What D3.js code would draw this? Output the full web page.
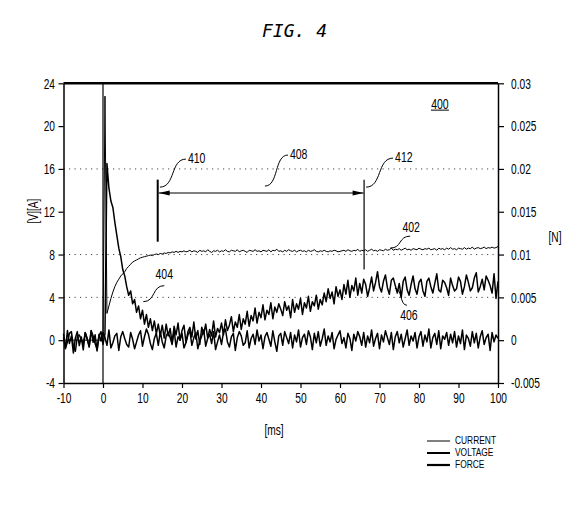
<!DOCTYPE html>
<html>
<head>
<meta charset="utf-8">
<script src="https://cdn.jsdelivr.net/npm/d3@7"></script>
<style>
  body { margin: 0; background: #fff; }
  svg { display: block; }
</style>
</head>
<body>
<div id="chart"></div>
<script>
// Scope trace, one sample every 0.5 ms starting at -10 ms
var startTime = -10, sampleStep = 0.5;

// CURRENT [A] (thin trace, labelled 402)
var currentA = [
  0, 0, 0, 0, 0, 0, 0, 0, 0, 0, 0, 0, 0, 0, 0, 0, 0, 0, 0, 0, 0,
  22.8,
  2.5, 3.2, 3.9, 4.5, 5.0, 5.4, 5.7, 6.0, 6.2, 6.4, 6.7, 6.9, 7.1, 7.3, 7.4, 7.5, 7.6, 7.7, 7.75,
  7.8, 7.85, 7.9, 7.95, 7.9, 8.0, 8.05, 8.0, 8.1, 8.05, 8.15, 8.1, 8.2, 8.15, 8.25, 8.2, 8.3, 8.2, 8.3, 8.25,
  8.35, 8.25, 8.3, 8.4, 8.25, 8.35, 8.3, 8.2, 8.4, 8.3, 8.35, 8.25, 8.45, 8.3, 8.2, 8.35, 8.3, 8.4, 8.25, 8.35,
  8.3, 8.45, 8.3, 8.25, 8.4, 8.35, 8.3, 8.45, 8.25, 8.35, 8.4, 8.3, 8.2, 8.4, 8.35, 8.3, 8.45, 8.3, 8.35, 8.25,
  8.4, 8.35, 8.3, 8.45, 8.25, 8.4, 8.35, 8.5, 8.3, 8.35, 8.25, 8.4, 8.3, 8.45, 8.35, 8.3, 8.4, 8.25, 8.35, 8.4,
  8.3, 8.35, 8.25, 8.4, 8.3, 8.35, 8.45, 8.3, 8.25, 8.35, 8.3, 8.4, 8.3, 8.25, 8.35, 8.3, 8.4, 8.35, 8.25, 8.3,
  8.35, 8.4, 8.3, 8.45, 8.35, 8.3, 8.4, 8.35, 8.5, 8.3, 8.4, 8.35, 8.45, 8.3, 8.4, 8.5, 8.35, 8.4, 8.3, 8.45,
  8.4, 8.35, 8.5, 8.4, 8.45, 8.6, 8.4, 8.5, 8.45, 8.55, 8.4, 8.5, 8.6, 8.45, 8.5, 8.4, 8.55, 8.5, 8.45, 8.6,
  8.5, 8.45, 8.55, 8.5, 8.6, 8.45, 8.5, 8.55, 8.4, 8.6, 8.5, 8.55, 8.45, 8.6, 8.5, 8.65, 8.5, 8.55, 8.45, 8.6,
  8.55, 8.5, 8.65, 8.5, 8.6, 8.55, 8.7, 8.5, 8.6, 8.65, 8.55, 8.6, 8.7, 8.55, 8.65, 8.6, 8.7, 8.6, 8.65, 8.75
];

// VOLTAGE [V] (decays from the pulse, then rises again; labelled 404 / 406)
var voltageV = [
  0.6, -0.8, 0.9, -0.3, 0.4, -1.2, 0.2, 0.8, -0.5, 0.3, -0.9, 0.7, 0.1, -0.6, 0.9, -0.2, 0.5, -1.0, 0.4, 0.8, -0.4,
  0.6,
  16.5, 14.2, 13.0, 12.4, 11.0, 9.8, 8.6, 7.8, 6.6, 6.0, 5.0, 4.2, 4.6, 3.4, 3.8, 2.6, 3.2, 2.0, 2.8, 1.5,
  2.4, 1.2, 2.0, 0.9, 1.8, 0.6, 1.5, 0.4, 1.4,
  0.2, 1.5, 0.4, 1.1, -0.3, 1.3, 0.5, 1.6, 0.0, 0.9, 1.4, -0.2, 0.8, 1.2, 0.3, 1.7, 0.1, 0.9, -0.4, 1.2,
  0.6, 1.5, 0.2, 1.0, 0.4, 1.8, 0.3, 1.1, 0.7, 1.6,
  0.5, 1.9, 0.9, 1.4, 2.2, 0.8, 1.7, 1.2, 2.4, 1.0, 2.0, 1.5, 2.7, 1.3, 2.3, 1.8, 3.0, 1.6, 2.6, 2.1,
  3.3, 1.9, 2.8, 2.4, 3.5, 2.0, 3.1, 2.6, 3.4, 2.9,
  2.3, 3.6, 2.8, 3.2, 2.1, 3.8, 2.6, 3.4, 2.9, 3.9, 2.4, 3.5, 3.0, 4.1, 2.7, 3.6, 3.2, 4.2, 2.9, 3.8,
  3.3, 4.4, 3.6, 4.8, 3.9, 4.5, 3.4, 5.0, 4.1, 4.7, 3.8, 5.2, 4.3, 5.6, 4.0, 5.1, 4.6, 5.8, 4.2, 5.3,
  4.4, 5.7, 5.2, 4.1, 4.9, 5.9, 4.6, 5.4, 6.4, 5.0, 4.5, 5.5, 6.1, 4.9, 4.3, 5.6, 5.8, 5.1, 4.4, 5.3,
  4.0, 5.5, 5.9, 4.7, 4.2, 5.2, 6.0, 4.8, 4.3, 5.4, 5.7, 4.6, 4.1, 5.5, 5.8, 5.0, 4.4, 5.3, 6.2, 4.7,
  4.5, 5.6, 5.4, 4.9, 4.2, 5.8, 5.1, 4.6, 4.8, 5.9, 5.5, 4.3, 5.0, 6.1, 5.4, 4.6, 4.9, 5.8, 6.3, 4.5,
  5.0, 5.7, 4.7, 6.0, 5.6, 5.1, 4.4, 6.2, 3.9, 5.5
];

// FORCE [mN] (noisy trace around zero, read on the right axis)
var forceMilliN = [
  0.3, -0.9, -0.2, 0.8, 1.0, -0.7, -1.3, 0.4, 0.6, 0.1, -0.5, 0.9, 0.2, -0.8, 1.1, 0.5, -0.4, -1.1, 0.7, -0.1,
  0.9, 0.3, -0.6, 1.2, -0.9, -0.3, 0.5, 0.8, -1.2, 0.4, 1.0, 0.2, -0.5, -0.8, 0.9, 0.1, -1.0, -0.2, 0.6, 1.1,
  -0.7, 0.4, 1.3, 0.7, -0.4, -1.1, 0.2, 0.8, -0.6, 1.0, -0.2, -0.9, 0.5, 0.9, 0.3, -0.5, 1.2, -0.8, 0.4, 0.0,
  0.8, -0.9, -0.3, 0.6, 1.1, -0.6, 0.3, 0.9, -1.0, -0.1, 0.5, 1.2, -0.7, 0.2, 0.7, -0.4, 1.0, -1.1, -0.2, 0.6,
  -0.5, 0.9, 1.3, -0.2, -0.8, 0.4, 0.8, -1.2, 0.3, 1.0, 0.5, -0.6, -0.3, 1.1, -0.9, 0.2, 0.7, -0.5, 1.2, -0.1,
  0.6, -1.0, 0.4, 0.9, 0.1, -0.7, 1.1, -0.2, -1.3, 0.5, 0.8, -0.6, 1.0, 0.3, -0.4, 0.9, -0.9, 0.6, -0.2, 1.2,
  -0.8, 0.3, 0.7, -0.5, 1.1, 0.4, -1.1, 0.8, -0.3, 1.0, -0.7, 0.2, 1.3, -0.6, 0.5, -0.2, 0.9, -1.0, 0.1, 0.6,
  1.1, -0.4, 0.3, -0.9, 0.8, 0.2, -1.2, 0.7, -0.1, 1.0, 0.4, -0.6, 0.9, -0.8, 0.5, -0.3, 1.2, -0.7, 0.2, 0.8,
  -1.0, 0.6, -0.2, 1.1, 0.3, -0.5, 0.9, -1.1, 0.4, 1.0, -0.3, 0.7, -0.8, 0.2, 1.2, -0.6, 0.5, -0.1, 0.9, -0.9,
  0.4, 1.0, -0.7, 0.6, -0.2, 1.3, -0.9, 0.3, 0.8, -0.5, 1.1, -1.0, 0.5, 0.1, 0.9, -0.6, 0.7, -0.3, 1.0, -0.8,
  0.5, -0.4, 1.2, -1.1, 0.6, 0.2, -0.7, 1.0, -0.3, 0.8, -0.9, 0.4, 1.1, -0.5, 0.3, 0.7, -1.2, 0.9, -0.2, 0.6,
  0.2
];

// Axis ticks
var xTicks = [-10, 0, 10, 20, 30, 40, 50, 60, 70, 80, 90, 100];
var leftTicks = [-4, 0, 4, 8, 12, 16, 20, 24];
var rightTicks = [-0.005, 0, 0.005, 0.01, 0.015, 0.02, 0.025, 0.03];
var rightTickLabels = ["-0.005", "0", "0.005", "0.01", "0.015", "0.02", "0.025", "0.03"];
var gridLevels = [4, 8, 16];

var legendNames = ["CURRENT", "VOLTAGE", "FORCE"];

function drawChart() {
    d3.select("#chart").select("svg").remove();

    var margin = { top: 83.3, right: 80, bottom: 137, left: 63.5 },
        width = 498 - margin.left,
        height = 383 - margin.top;

    var root = d3.select("#chart")
        .append("svg")
        .attr("width", 578)
        .attr("height", 520);

    var svg = root.append("g")
        .attr("transform", "translate(" + margin.left + "," + margin.top + ")");

    var font = "'Liberation Sans', Arial, sans-serif";

    // squeeze text horizontally to mimic the narrow plotter lettering
    function squeeze(sel, k) {
        sel.each(function () {
            var t = d3.select(this);
            var x0 = +t.attr("x") || 0;
            t.attr("x", x0 / k).attr("transform", "scale(" + k + ",1)");
        });
    }

    function label(parent, x0, y0, str, anchor, size, k) {
        var t = parent.append("g")
            .attr("transform", "translate(" + x0 + "," + y0 + ")")
            .append("text")
            .attr("text-anchor", anchor)
            .attr("dy", "0.36em")
            .style("font-family", font)
            .style("font-size", size + "px")
            .style("fill", "#000")
            .text(str);
        squeeze(t, k);
        return t;
    }

    var x = d3.scaleLinear().domain([-10, 100]).range([0, width]);
    var yL = d3.scaleLinear().domain([-4, 24]).range([height, 0]);
    var yR = d3.scaleLinear().domain([-0.005, 0.03]).range([height, 0]);
    var tAt = function (i) { return startTime + i * sampleStep; };

    // Dotted reference levels
    svg.selectAll("line.grid")
        .data(gridLevels)
        .enter()
        .append("line")
        .attr("class", "grid")
        .attr("x1", 0).attr("x2", width)
        .attr("y1", d => yL(d)).attr("y2", d => yL(d))
        .attr("stroke", "#444")
        .attr("stroke-width", 1)
        .attr("stroke-dasharray", "1.2,4.3");

    // Traces
    var lineL = d3.line().x((d, i) => x(tAt(i))).y(d => yL(d));
    var lineR = d3.line().x((d, i) => x(tAt(i))).y(d => yR(d / 1000));

    svg.append("path")
        .attr("d", lineR(forceMilliN))
        .attr("fill", "none").attr("stroke", "#000")
        .attr("stroke-width", 1.5).attr("stroke-linejoin", "round");

    svg.append("path")
        .attr("d", lineL(voltageV))
        .attr("fill", "none").attr("stroke", "#000")
        .attr("stroke-width", 1.5).attr("stroke-linejoin", "round");

    svg.append("path")
        .attr("d", lineL(currentA))
        .attr("fill", "none").attr("stroke", "#000")
        .attr("stroke-width", 1).attr("stroke-linejoin", "round");

    // Trigger line at t = 0
    svg.append("line")
        .attr("x1", x(0)).attr("x2", x(0))
        .attr("y1", 0).attr("y2", height)
        .attr("stroke", "#000").attr("stroke-width", 1.2);

    // Axes
    var xAxis = svg.append("g")
        .attr("transform", "translate(0," + height + ")")
        .call(d3.axisBottom(x).tickValues(xTicks).tickFormat(d => String(d))
            .tickSize(5).tickSizeOuter(0).tickPadding(4));

    var leftAxis = svg.append("g")
        .call(d3.axisLeft(yL).tickValues(leftTicks).tickFormat(d => String(d))
            .tickSize(5).tickSizeOuter(0).tickPadding(3.5));

    var rightAxis = svg.append("g")
        .attr("transform", "translate(" + width + ",0)")
        .call(d3.axisRight(yR).tickValues(rightTicks).tickFormat((d, i) => rightTickLabels[i])
            .tickSize(6).tickSizeOuter(0).tickPadding(7));

    [xAxis, leftAxis, rightAxis].forEach(function (ax) {
        ax.attr("font-family", font).attr("font-size", 15);
        ax.select(".domain").attr("stroke-width", 1.5);
        ax.selectAll(".tick line").attr("stroke-width", 1.2);
        ax.selectAll("text").attr("fill", "#000");
        squeeze(ax.selectAll("text"), 0.68);
    });

    // Heavy top border
    svg.append("line")
        .attr("x1", 0).attr("x2", width)
        .attr("y1", 0).attr("y2", 0)
        .attr("stroke", "#000").attr("stroke-width", 2.5);

    // Interval 408 between markers 410 and 412
    var markers = [
        { t: 13.85, v0: 9.2, v1: 15.0, w: 2 },
        { t: 66.1, v0: 6.6, v1: 15.0, w: 1.2 }
    ];
    svg.selectAll("line.marker")
        .data(markers)
        .enter()
        .append("line")
        .attr("class", "marker")
        .attr("x1", d => x(d.t)).attr("x2", d => x(d.t))
        .attr("y1", d => yL(d.v0)).attr("y2", d => yL(d.v1))
        .attr("stroke", "#000").attr("stroke-width", d => d.w);

    var arrowV = 13.75;
    var ax0 = x(markers[0].t) + 1, ax1 = x(markers[1].t) - 0.5, ay = yL(arrowV);
    svg.append("line")
        .attr("x1", ax0).attr("x2", ax1)
        .attr("y1", ay).attr("y2", ay)
        .attr("stroke", "#000").attr("stroke-width", 1.2);
    svg.append("path")
        .attr("d", "M" + ax0 + "," + ay + "l11,-2.5l0,5z")
        .attr("fill", "#000");
    svg.append("path")
        .attr("d", "M" + ax1 + "," + ay + "l-11,-2.5l0,5z")
        .attr("fill", "#000");

    // Reference numerals with curved leaders
    var callouts = [
        { text: "410", t: 14.4, v: 14.3, dx: 26, dy: -28, tx: 28, ty: -29, anchor: "start" },
        { text: "408", t: 41.0, v: 14.4, dx: 23, dy: -31, tx: 25, ty: -32, anchor: "start" },
        { text: "412", t: 66.6, v: 14.3, dx: 27, dy: -29, tx: 29, ty: -30, anchor: "start" },
        { text: "402", t: 72.7, v: 8.6, dx: 20, dy: -12, tx: 21, ty: -21, anchor: "middle" },
        { text: "404", t: 10.2, v: 3.6, dx: 21, dy: -16, tx: 21, ty: -28, anchor: "middle" },
        { text: "406", t: 73.9, v: 4.85, dx: 12, dy: 17, tx: 14, ty: 27, anchor: "middle" }
    ];
    callouts.forEach(function (c) {
        var px = x(c.t), py = yL(c.v);
        var ex = px + c.dx, ey = py + c.dy;
        var p = d3.path();
        p.moveTo(px, py);
        p.bezierCurveTo(px + c.dx * 0.6, py, px + c.dx * 0.4, ey, ex, ey);
        svg.append("path")
            .attr("d", p.toString())
            .attr("fill", "none").attr("stroke", "#000").attr("stroke-width", 1);
        label(svg, px + c.tx, py + c.ty, c.text, c.anchor, 14, 0.75);
    });

    // Figure part number 400, underlined
    var n400x = x(85.3), n400y = yL(22.1);
    label(svg, n400x, n400y, "400", "middle", 14, 0.75);
    svg.append("line")
        .attr("x1", n400x - 9).attr("x2", n400x + 9)
        .attr("y1", n400y + 6.5).attr("y2", n400y + 6.5)
        .attr("stroke", "#000").attr("stroke-width", 1);

    // Axis titles
    var yTitle = root.append("g").attr("transform", "translate(33,211) rotate(-90)");
    label(yTitle, 0, 0, "[V][A]", "middle", 15, 0.68);
    label(root, 555, 237, "[N]", "middle", 15, 0.68);
    label(root, 274, 430, "[ms]", "middle", 15, 0.68);

    // Figure title
    root.append("text")
        .attr("x", 294.5).attr("y", 37)
        .attr("text-anchor", "middle")
        .style("font-family", "'DejaVu Sans Mono', monospace")
        .style("font-style", "italic")
        .style("font-size", "18px")
        .style("fill", "#000")
        .text("FIG. 4");

    // Legend
    var legendWidths = [1, 2, 2.2];
    var legend = root.append("g").attr("transform", "translate(427,441)");
    legendNames.forEach(function (name, i) {
        legend.append("line")
            .attr("x1", 0).attr("x2", 23)
            .attr("y1", i * 12).attr("y2", i * 12)
            .attr("stroke", "#000").attr("stroke-width", legendWidths[i]);
        label(legend, 28, i * 12 - 0.5, name, "start", 10.5, 0.8);
    });
}

drawChart();
</script>
</body>
</html>
